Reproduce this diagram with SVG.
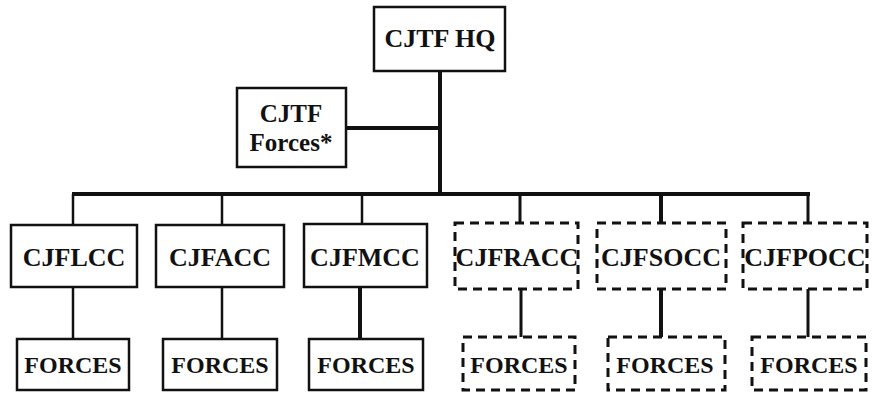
<svg xmlns="http://www.w3.org/2000/svg" width="873" height="395" viewBox="0 0 873 395">
<style>
.box{fill:#fff;stroke:#111;stroke-width:2.5}
.dash{fill:#fff;stroke:#111;stroke-width:3;stroke-dasharray:9 6}
.c{stroke:#111;fill:none}
</style>
<rect width="873" height="395" fill="#fff"/>
<g id="connectors">
<line class="c" x1="440" y1="71" x2="440" y2="194" stroke-width="4"/>
<line class="c" x1="346" y1="128" x2="440" y2="128" stroke-width="4"/>
<line class="c" x1="72" y1="194" x2="810" y2="194" stroke-width="4"/>
<line class="c" x1="73" y1="194" x2="73" y2="225" stroke-width="2.5"/>
<line class="c" x1="222" y1="194" x2="222" y2="225" stroke-width="2.5"/>
<line class="c" x1="362" y1="194" x2="362" y2="224" stroke-width="2.5"/>
<line class="c" x1="520" y1="194" x2="520" y2="223" stroke-width="3"/>
<line class="c" x1="661" y1="194" x2="661" y2="223" stroke-width="4"/>
<line class="c" x1="808" y1="194" x2="808" y2="223" stroke-width="3"/>
<line class="c" x1="73" y1="287" x2="73" y2="339" stroke-width="2.5"/>
<line class="c" x1="222" y1="287" x2="222" y2="339" stroke-width="2.5"/>
<line class="c" x1="360" y1="287" x2="360" y2="339" stroke-width="4"/>
<line class="c" x1="521" y1="289" x2="521" y2="337" stroke-width="3"/>
<line class="c" x1="661" y1="289" x2="661" y2="337" stroke-width="4"/>
<line class="c" x1="808" y1="289" x2="808" y2="337" stroke-width="3"/>
</g>
<g font-family="Liberation Serif, Times New Roman, serif" font-weight="bold" fill="#111" text-anchor="middle">
<g id="hq"><rect class="box" x="374" y="7" width="131" height="64"/><text x="440" y="47" font-size="26">CJTF HQ</text></g>
<g id="cjtf-forces"><rect class="box" x="237" y="88" width="109" height="79"/><text x="291" y="122" font-size="25">CJTF</text><text x="291" y="151" font-size="25">Forces*</text></g>
<g id="cjflcc"><rect class="box" x="11" y="225" width="126" height="62"/><text x="74" y="266" font-size="26">CJFLCC</text></g>
<g id="cjfacc"><rect class="box" x="156" y="225" width="128" height="62"/><text x="220" y="266" font-size="26">CJFACC</text></g>
<g id="cjfmcc"><rect class="box" x="304" y="224" width="123" height="63"/><text x="365" y="266" font-size="26">CJFMCC</text></g>
<g id="cjfracc"><rect class="dash" x="455" y="223" width="123" height="66"/><text x="517" y="266" font-size="26">CJFRACC</text></g>
<g id="cjfsocc"><rect class="dash" x="597" y="223" width="129" height="66"/><text x="661" y="266" font-size="26">CJFSOCC</text></g>
<g id="cjfpocc"><rect class="dash" x="743" y="223" width="124" height="66"/><text x="805" y="266" font-size="26">CJFPOCC</text></g>
<g id="forces1"><rect class="box" x="17" y="339" width="112" height="51"/><text x="73" y="373" font-size="24">FORCES</text></g>
<g id="forces2"><rect class="box" x="163" y="339" width="114" height="51"/><text x="220" y="373" font-size="24">FORCES</text></g>
<g id="forces3"><rect class="box" x="309" y="339" width="114" height="51"/><text x="366" y="373" font-size="24">FORCES</text></g>
<g id="forces4"><rect class="dash" x="463" y="337" width="112" height="53"/><text x="519" y="373" font-size="24">FORCES</text></g>
<g id="forces5"><rect class="dash" x="608" y="337" width="117" height="53"/><text x="665" y="373" font-size="24">FORCES</text></g>
<g id="forces6"><rect class="dash" x="752" y="337" width="114" height="53"/><text x="809" y="373" font-size="24">FORCES</text></g>
</g>
</svg>
